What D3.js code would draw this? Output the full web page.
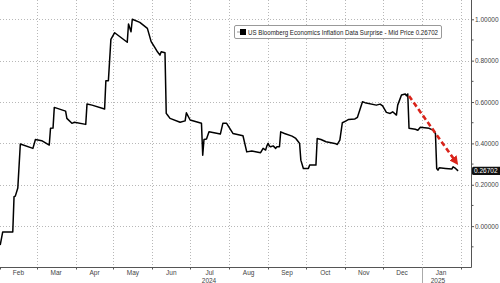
<!DOCTYPE html>
<html>
<head>
<meta charset="utf-8">
<script src="https://cdn.jsdelivr.net/npm/d3@7"></script>
<style>
  body { margin: 0; background: #fff; }
  svg { display: block; font-family: "Liberation Sans", Arial, sans-serif; }
</style>
</head>
<body>
<svg id="chart" width="500" height="283"></svg>
<script>
// Series: US Bloomberg Economics Inflation Data Surprise
const dates = [
  "2024-02-01","2024-02-03","2024-02-11","2024-02-12","2024-02-13","2024-02-15","2024-02-17","2024-02-27","2024-02-29","2024-03-05",
  "2024-03-11","2024-03-12","2024-03-14","2024-03-15","2024-03-24","2024-03-25","2024-03-29","2024-03-31","2024-04-09","2024-04-10",
  "2024-04-14","2024-04-24","2024-04-25","2024-04-27","2024-04-29","2024-05-02","2024-05-12","2024-05-13","2024-05-15","2024-05-16",
  "2024-05-22","2024-05-28","2024-05-31","2024-06-03","2024-06-05","2024-06-07","2024-06-08","2024-06-11","2024-06-12","2024-06-13",
  "2024-06-15","2024-06-23","2024-06-27","2024-06-28","2024-07-01","2024-07-10","2024-07-11","2024-07-12","2024-07-14","2024-07-16",
  "2024-07-25","2024-07-27","2024-07-30","2024-08-04","2024-08-12","2024-08-15","2024-08-19","2024-08-26","2024-08-28","2024-08-30",
  "2024-08-31","2024-09-01","2024-09-02","2024-09-03","2024-09-05","2024-09-07","2024-09-08","2024-09-10","2024-09-11","2024-09-14",
  "2024-09-20","2024-09-23","2024-09-25","2024-09-26","2024-09-27","2024-09-29","2024-10-03","2024-10-04","2024-10-09","2024-10-10",
  "2024-10-13","2024-10-17","2024-10-24","2024-10-26","2024-10-28","2024-10-30","2024-11-02","2024-11-04","2024-11-09","2024-11-11",
  "2024-11-15","2024-11-17","2024-11-26","2024-11-29","2024-12-01","2024-12-04","2024-12-07","2024-12-09","2024-12-12","2024-12-13",
  "2024-12-16","2024-12-19","2024-12-20","2024-12-21","2024-12-22","2024-12-27","2024-12-29","2024-12-31","2025-01-07","2025-01-10",
  "2025-01-11","2025-01-12","2025-01-13","2025-01-14","2025-01-15","2025-01-20","2025-01-25","2025-01-26","2025-01-28","2025-01-30"
];
const values = [
  -0.092,-0.028,-0.028,0.142,0.145,0.184,0.397,0.376,0.419,0.413,
  0.392,0.473,0.474,0.574,0.556,0.521,0.497,0.502,0.492,0.590,
  0.585,0.566,0.703,0.703,0.903,0.935,0.889,0.977,0.940,1.000,
  0.985,0.956,0.892,0.863,0.843,0.827,0.843,0.838,0.545,0.537,
  0.521,0.502,0.509,0.548,0.513,0.497,0.343,0.419,0.421,0.456,
  0.445,0.497,0.497,0.448,0.437,0.359,0.363,0.355,0.376,0.368,
  0.388,0.400,0.387,0.384,0.388,0.376,0.384,0.384,0.456,0.448,
  0.435,0.424,0.408,0.400,0.319,0.279,0.279,0.295,0.295,0.424,
  0.419,0.408,0.400,0.395,0.416,0.500,0.509,0.516,0.518,0.526,
  0.601,0.597,0.585,0.590,0.581,0.550,0.545,0.553,0.537,0.585,
  0.634,0.639,0.630,0.639,0.473,0.468,0.464,0.478,0.473,0.464,
  0.456,0.448,0.279,0.271,0.282,0.279,0.276,0.287,0.279,0.26702
];

// Axis ticks
const yTicks = [0, 0.2, 0.4, 0.6, 0.8, 1.0];
const yMinorTicks = [-0.1, 0.1, 0.3, 0.5, 0.7, 0.9];
const monthStarts = ["2024-02-01","2024-03-01","2024-04-01","2024-05-01","2024-06-01","2024-07-01","2024-08-01",
  "2024-09-01","2024-10-01","2024-11-01","2024-12-01","2025-01-01","2025-02-01"];
const monthLabels = ["Feb","Mar","Apr","May","Jun","Jul","Aug","Sep","Oct","Nov","Dec","Jan"];
const yearLabels = [{ year: "2024", at: "2024-07-16" }, { year: "2025", at: "2025-01-14" }];

// Annotation arrow (red dashed trend)
const arrowDates = ["2024-12-22", "2025-01-30"];
const arrowValues = [0.629, 0.295];

const legendText = "US Bloomberg Economics Inflation Data Surprise - Mid Price 0.26702";
const lastLabel = "0.26702";

const parse = d3.timeParse("%Y-%m-%d");
const data = dates.map((d, i) => ({ date: parse(d), value: values[i] }));

const svg = d3.select("#chart");
const plotRight = 471, plotBottom = 267.5;

const x = d3.scaleTime()
  .domain([parse("2024-02-01"), parse("2025-02-01")])
  .range([0.2, 460.6]);
const y = d3.scaleLinear()
  .domain([-0.2, 1.0])
  .range([plotBottom, 19.3]);

const gridColor = "#b8b8b8";
const axisColor = "#555";
const textColor = "#444";

// Horizontal grid
svg.append("g").selectAll("line")
  .data(yTicks)
  .join("line")
  .attr("x1", 0).attr("x2", plotRight)
  .attr("y1", d => Math.round(y(d)) + 0.5).attr("y2", d => Math.round(y(d)) + 0.5)
  .attr("stroke", gridColor).attr("stroke-width", 1)
  .attr("stroke-dasharray", "1,2");

// Vertical grid at month boundaries
svg.append("g").selectAll("line")
  .data(monthStarts.slice(1))
  .join("line")
  .attr("x1", d => Math.round(x(parse(d))) + 0.5).attr("x2", d => Math.round(x(parse(d))) + 0.5)
  .attr("y1", 0).attr("y2", plotBottom)
  .attr("stroke", gridColor).attr("stroke-width", 1)
  .attr("stroke-dasharray", "1,2");

// Right axis
const yAxis = d3.axisRight(y)
  .tickValues(yTicks)
  .tickSize(3)
  .tickFormat(d3.format(".5f"));
const gy = svg.append("g")
  .attr("transform", `translate(${plotRight},0)`)
  .call(yAxis);
gy.select(".domain").attr("stroke", axisColor).attr("d", `M0.5,0V${plotBottom}`);
gy.selectAll(".tick line").attr("stroke", axisColor);
gy.selectAll(".tick text")
  .attr("x", 4)
  .attr("fill", textColor)
  .style("font-size", "6.5px");
gy.selectAll(".minor")
  .data(yMinorTicks)
  .join("line")
  .attr("class", "minor")
  .attr("x1", 0.5).attr("x2", 2.5)
  .attr("y1", d => y(d)).attr("y2", d => y(d))
  .attr("stroke", axisColor);

// Bottom axis
const gx = svg.append("g");
gx.append("line")
  .attr("x1", 0).attr("x2", plotRight + 0.5)
  .attr("y1", plotBottom).attr("y2", plotBottom)
  .attr("stroke", axisColor);
gx.selectAll(".mtick")
  .data(monthStarts)
  .join("line")
  .attr("class", "mtick")
  .attr("x1", d => Math.round(x(parse(d))) + 0.5).attr("x2", d => Math.round(x(parse(d))) + 0.5)
  .attr("y1", plotBottom).attr("y2", plotBottom + 2)
  .attr("stroke", axisColor);
gx.selectAll(".mlabel")
  .data(monthLabels)
  .join("text")
  .attr("class", "mlabel")
  .attr("x", (d, i) => (x(parse(monthStarts[i])) + x(parse(monthStarts[i + 1]))) / 2)
  .attr("y", 275)
  .attr("text-anchor", "middle")
  .attr("fill", textColor)
  .style("font-size", "6.5px")
  .text(d => d);
// Year separator and labels
gx.append("line")
  .attr("x1", Math.round(x(parse("2025-01-01"))) + 0.5).attr("x2", Math.round(x(parse("2025-01-01"))) + 0.5)
  .attr("y1", plotBottom).attr("y2", 283)
  .attr("stroke", "#aaa");
gx.selectAll(".ylabel")
  .data(yearLabels)
  .join("text")
  .attr("class", "ylabel")
  .attr("x", d => x(parse(d.at)))
  .attr("y", 282.5)
  .attr("text-anchor", "middle")
  .attr("fill", textColor)
  .style("font-size", "6.5px")
  .text(d => d.year);

// Series line
const line = d3.line()
  .x(d => x(d.date))
  .y(d => y(d.value));
svg.append("path")
  .datum(data)
  .attr("fill", "none")
  .attr("stroke", "#000")
  .attr("stroke-width", 1.5)
  .attr("stroke-linejoin", "round")
  .attr("d", line);

// Red dashed arrow
svg.append("defs").append("marker")
  .attr("id", "redhead")
  .attr("viewBox", "0 -5 10 10")
  .attr("refX", 6)
  .attr("markerWidth", 3.4)
  .attr("markerHeight", 3.4)
  .attr("orient", "auto")
  .append("path")
  .attr("d", "M0,-5L10,0L0,5Z")
  .attr("fill", "#d9241b");
const ax = arrowDates.map(d => x(parse(d)));
const ay = arrowValues.map(v => y(v));
svg.append("line")
  .attr("x1", ax[0]).attr("y1", ay[0])
  .attr("x2", ax[1] - 2).attr("y2", ay[1] - 3)
  .attr("stroke", "#d9241b")
  .attr("stroke-width", 2.6)
  .attr("stroke-dasharray", "5,3")
  .attr("marker-end", "url(#redhead)");

// Last value tag
const last = data[data.length - 1];
svg.append("rect")
  .attr("x", plotRight + 1).attr("y", y(last.value) - 4.2)
  .attr("width", 29).attr("height", 8.4)
  .attr("rx", 1.5)
  .attr("fill", "#111");
svg.append("text")
  .attr("x", plotRight + 3).attr("y", y(last.value) + 2.3)
  .attr("fill", "#fff")
  .style("font-size", "6.5px")
  .text(lastLabel);

// Legend
const lg = svg.append("g").attr("transform", "translate(234,25)");
lg.append("rect")
  .attr("x", 0.5).attr("y", 0.5)
  .attr("width", 207).attr("height", 13)
  .attr("rx", 1.5)
  .attr("fill", "#fff")
  .attr("stroke", "#999");
lg.append("line")
  .attr("x1", 3).attr("x2", 6)
  .attr("y1", 7).attr("y2", 7)
  .attr("stroke", "#999");
lg.append("rect")
  .attr("x", 6).attr("y", 4)
  .attr("width", 6).attr("height", 6)
  .attr("fill", "#000");
lg.append("text")
  .attr("x", 14).attr("y", 9.5)
  .attr("fill", "#222")
  .attr("textLength", 190)
  .attr("lengthAdjust", "spacingAndGlyphs")
  .style("font-size", "6.5px")
  .text(legendText);
</script>
</body>
</html>
